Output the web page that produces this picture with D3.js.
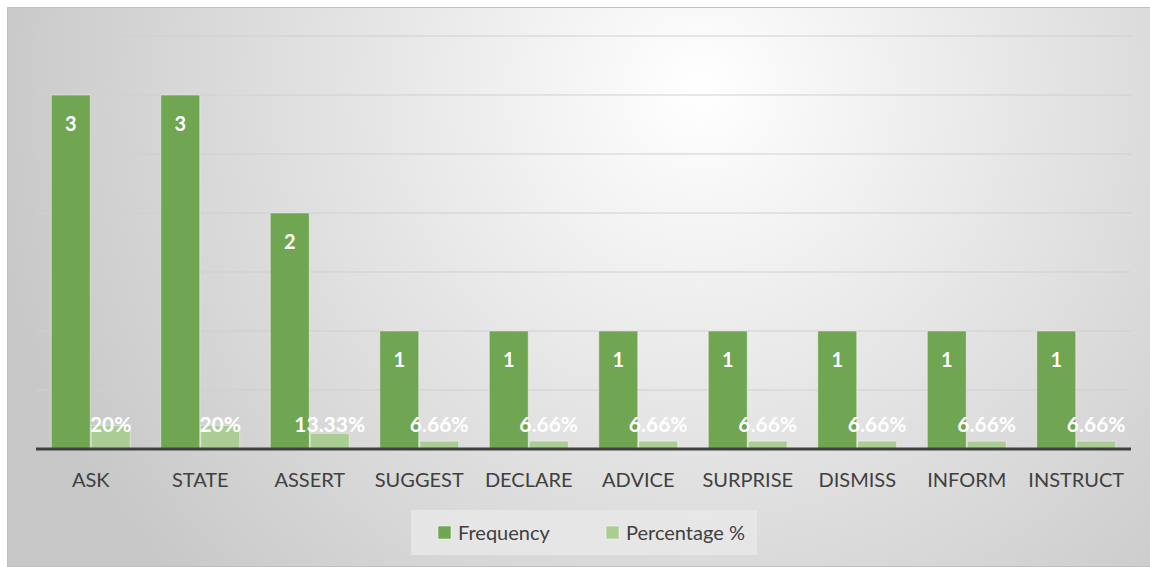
<!DOCTYPE html>
<html>
<head>
<meta charset="utf-8">
<script src="https://cdn.jsdelivr.net/npm/d3@7"></script>
<style>
  body { margin: 0; background: #fff; }
  svg { display: block; }
</style>
</head>
<body>
<div id="chart"></div>
<script>
const WIDTH = 1150, HEIGHT = 567;

const categories = ["ASK", "STATE", "ASSERT", "SUGGEST", "DECLARE", "ADVICE", "SURPRISE", "DISMISS", "INFORM", "INSTRUCT"];
const frequency = [3, 3, 2, 1, 1, 1, 1, 1, 1, 1];
const percentage = [0.20, 0.20, 0.1333, 0.0666, 0.0666, 0.0666, 0.0666, 0.0666, 0.0666, 0.0666];
const percentLabels = ["20%", "20%", "13.33%", "6.66%", "6.66%", "6.66%", "6.66%", "6.66%", "6.66%", "6.66%"];
const seriesNames = ["Frequency", "Percentage %"];
const gridTicks = [0, 0.5, 1, 1.5, 2, 2.5, 3, 3.5];

const FONT = "Lato, 'Open Sans', sans-serif";
const colors = { Frequency: "#70a552", "Percentage %": "#a9cd92" };

const margin = { left: 36, right: 19, top: 36, bottom: 118 };

const svg = d3.select("#chart").append("svg")
    .attr("width", WIDTH)
    .attr("height", HEIGHT);

const defs = svg.append("defs");
const grad = defs.append("radialGradient")
    .attr("id", "bg")
    .attr("gradientUnits", "userSpaceOnUse")
    .attr("cx", 700).attr("cy", 90).attr("r", 720);
grad.append("stop").attr("offset", "0%").attr("stop-color", "#ffffff");
grad.append("stop").attr("offset", "50%").attr("stop-color", "#e3e3e3");
grad.append("stop").attr("offset", "100%").attr("stop-color", "#c8c8c8");

// chart frame
svg.append("rect")
    .attr("x", 7.5).attr("y", 7.5)
    .attr("width", WIDTH - 7).attr("height", HEIGHT - 8)
    .attr("fill", "url(#bg)")
    .attr("stroke", "#bfbfbf");

const x = d3.scaleBand()
    .domain(categories)
    .range([margin.left, WIDTH - margin.right])
    .paddingInner(0.27)
    .paddingOuter(0.135);

const xSub = d3.scaleBand()
    .domain(seriesNames)
    .range([0, x.bandwidth()]);

const y = d3.scaleLinear()
    .domain([0, 3.5])
    .range([HEIGHT - margin.bottom, margin.top]);

// gridlines
svg.append("g")
    .selectAll("line")
    .data(gridTicks.slice(1))
    .join("line")
    .attr("x1", margin.left).attr("x2", WIDTH - margin.right)
    .attr("y1", d => y(d)).attr("y2", d => y(d))
    .attr("stroke", "#cfcfcf")
    .attr("stroke-width", 1.2);

const rows = categories.map((c, i) => ({
    cat: c,
    values: [
        { key: "Frequency", value: frequency[i], label: String(frequency[i]) },
        { key: "Percentage %", value: percentage[i], label: percentLabels[i] }
    ]
}));

const groups = svg.append("g")
    .selectAll("g")
    .data(rows)
    .join("g")
    .attr("transform", d => `translate(${x(d.cat)},0)`);

groups.selectAll("rect")
    .data(d => d.values)
    .join("rect")
    .attr("x", d => xSub(d.key) + 0.5)
    .attr("y", d => y(d.value))
    .attr("width", xSub.bandwidth() - 1)
    .attr("height", d => y(0) - y(d.value))
    .attr("fill", d => colors[d.key])
    .attr("stroke", "#ffffff")
    .attr("stroke-opacity", 0.45)
    .attr("stroke-width", 1);

// frequency labels (inside end)
groups.append("text")
    .attr("x", xSub("Frequency") + xSub.bandwidth() / 2)
    .attr("y", d => y(d.values[0].value) + 36)
    .attr("text-anchor", "middle")
    .attr("font-family", FONT)
    .attr("font-weight", "bold")
    .attr("font-size", 20)
    .attr("fill", "#ffffff")
    .text(d => d.values[0].label);

// percentage labels
groups.append("text")
    .attr("x", xSub("Percentage %") + xSub.bandwidth() / 2)
    .attr("y", y(0) - 17)
    .attr("text-anchor", "middle")
    .attr("font-family", FONT)
    .attr("font-weight", "bold")
    .attr("font-size", 21)
    .attr("fill", "#ffffff")
    .text(d => d.values[1].label);

// baseline
svg.append("line")
    .attr("x1", margin.left).attr("x2", WIDTH - margin.right)
    .attr("y1", y(0)).attr("y2", y(0))
    .attr("stroke", "#404040")
    .attr("stroke-width", 3);

// category axis labels
svg.append("g")
    .selectAll("text")
    .data(categories)
    .join("text")
    .attr("x", d => x(d) + x.bandwidth() / 2)
    .attr("y", y(0) + 38)
    .attr("text-anchor", "middle")
    .attr("font-family", FONT)
    .attr("font-size", 20)
    .attr("fill", "#404040")
    .text(d => d);

// legend
const legend = svg.append("g");
legend.append("rect")
    .attr("x", 411).attr("y", 510)
    .attr("width", 346).attr("height", 45)
    .attr("fill", "#e8e8e8")
    .attr("fill-opacity", 0.8);

const legendX = [438, 606];
const items = legend.selectAll("g")
    .data(seriesNames)
    .join("g")
    .attr("transform", (d, i) => `translate(${legendX[i]},526)`);

items.append("rect")
    .attr("width", 13).attr("height", 13)
    .attr("fill", d => colors[d])
    .attr("stroke", "#ffffff")
    .attr("stroke-opacity", 0.5);

items.append("text")
    .attr("x", 20).attr("y", 14)
    .attr("font-family", FONT)
    .attr("font-size", 20)
    .attr("fill", "#404040")
    .text(d => d);
</script>
</body>
</html>
